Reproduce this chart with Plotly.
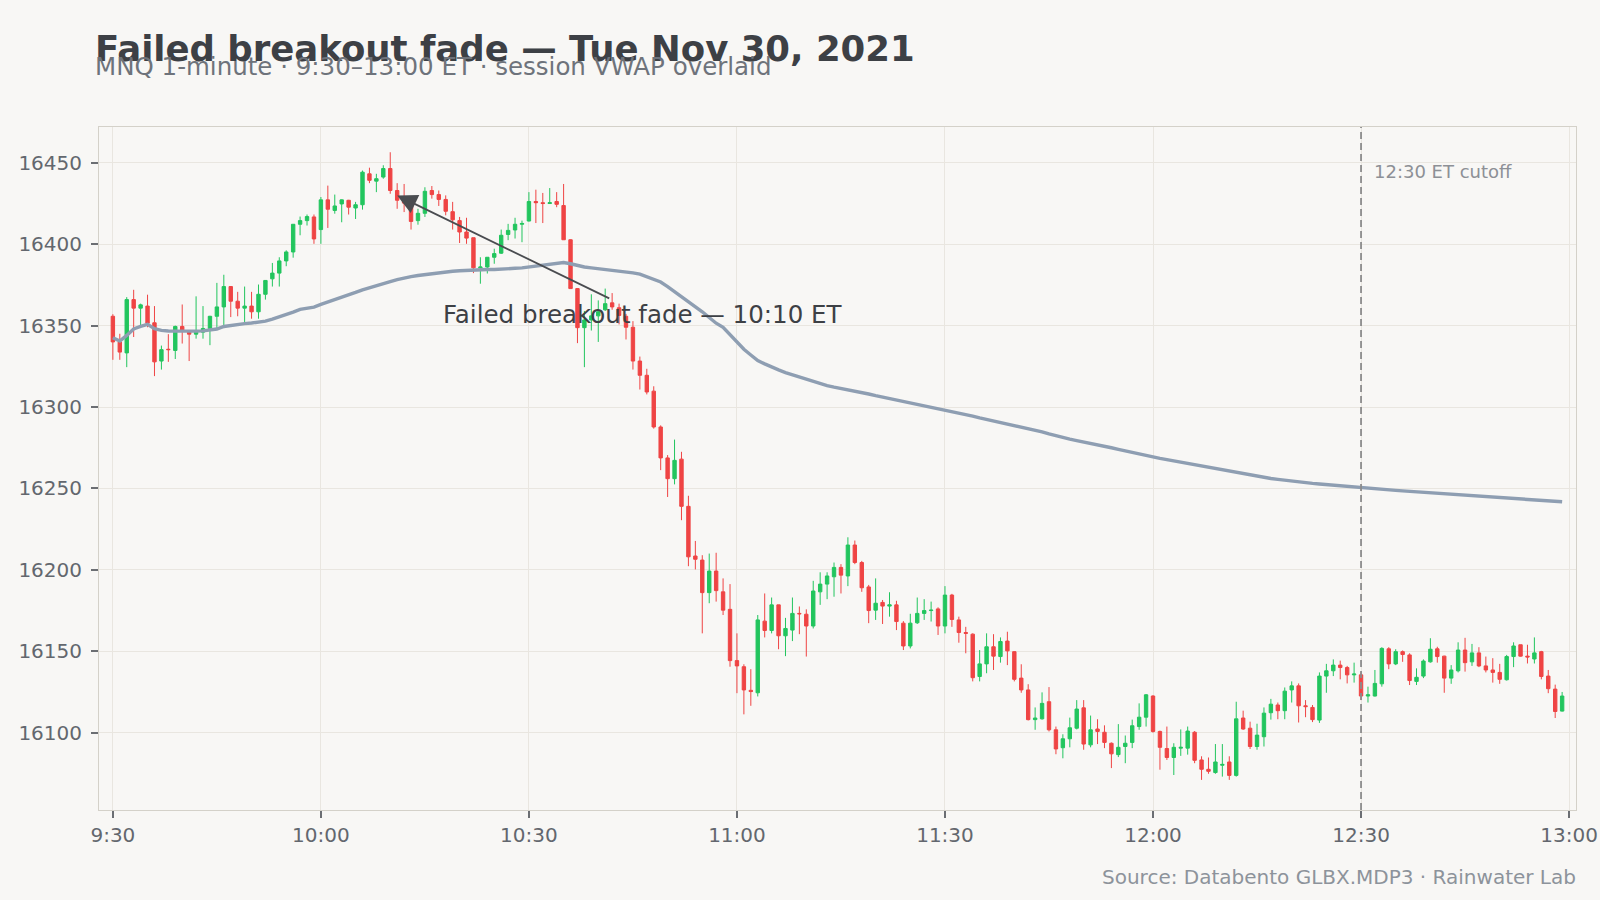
import pandas as pd
import plotly.graph_objects as go

# ---- data (MNQ 1-minute, 2021-11-30, 09:30-12:59 ET) ----
opens = [16355.75,16340,16333.25,16366,16360.75,16362,16351.75,16328.25,16335.5,16334.75,
 16349.5,16346.75,16344.75,16346,16348.25,16355.75,16361.5,16374,16365,16360.75,
 16362,16358.5,16369.25,16378.75,16382.25,16389.75,16395.25,16412.25,16414.5,16416.75,
 16409,16427.25,16420.75,16424.75,16427,16422.25,16424.25,16443.25,16438.75,16441.25,
 16446.5,16433,16427,16425.75,16414.5,16419,16433,16430.5,16427.5,16420,
 16414.5,16407.5,16404,16385.5,16386,16392,16394.5,16406,16408.75,16412.25,
 16414.25,16426.25,16425.5,16425,16426.25,16423.75,16402.75,16372.75,16348.75,16353.5,
 16356,16359.75,16364,16361,16355.75,16349,16328.25,16319.5,16309.75,16287.75,
 16268.75,16256,16268,16239,16208.5,16206,16186,16199.25,16186.5,16175.75,
 16144.25,16140.5,16126,16124.5,16168.5,16162.75,16178.5,16159.5,16163,16173.25,
 16172.75,16165.5,16186.5,16191.25,16195.75,16201.5,16196.25,16215.25,16204.5,16189.5,
 16175.25,16180,16177.75,16178.5,16167.25,16153.25,16167.5,16173.25,16175,16176,
 16165.5,16184.5,16169.25,16161.5,16160.5,16134.5,16142.25,16152.75,16146.75,16156.25,
 16149.75,16133.5,16126.25,16108,16108.5,16119,16101.75,16090.75,16096.25,16102.75,
 16115.25,16092.5,16102.25,16100.25,16093.5,16086.5,16091.5,16094,16103.75,16109.5,
 16122.5,16100.75,16090.25,16084.75,16090.5,16090.5,16100.25,16083.25,16077.5,16075.5,
 16080,16082,16073.75,16109,16102.75,16091.5,16097.5,16112.25,16117,16113.5,
 16126.25,16128.75,16116.5,16115.5,16107.75,16134.75,16138,16141.5,16140,16135.5,
 16135.5,16122.5,16122.5,16130,16151.5,16142.25,16149.75,16147.75,16131.5,16134.75,
 16143.5,16151.5,16147,16133.5,16138,16150.75,16143.5,16149,16141,16138.5,
 16137,16132.5,16146.75,16154,16147,16145.25,16149.75,16134.75,16126.75,16113.25]
highs = [16357,16345,16367.5,16372,16363.5,16369,16362,16337.75,16344.75,16350,
 16363,16346.75,16368,16362,16356,16376.25,16381.25,16374.25,16370.75,16374,
 16370.75,16375.25,16378,16388.5,16392,16396.25,16412.25,16417,16418.25,16418.25,
 16429,16436,16430.5,16427.5,16427.25,16426,16445.25,16447,16443.25,16448.5,
 16456.5,16437.5,16437,16426,16421.75,16435,16435.75,16433,16430,16426,
 16416.75,16416.25,16404,16392,16392,16397.25,16409,16412.5,16416.25,16414.5,
 16432,16433.5,16431.5,16434.5,16432,16437,16403,16373,16359,16369.25,
 16365.5,16372.75,16370,16363.5,16357.25,16352.75,16331,16323.5,16312.75,16288.75,
 16270.5,16280,16272.5,16245.5,16217.75,16209,16210,16210.5,16194.75,16191.25,
 16161,16142,16139,16172.25,16185.5,16183,16178.5,16170.5,16183,16177.5,
 16175.75,16193.25,16198.5,16198.5,16204.5,16203.5,16220,16218,16205.5,16190.75,
 16194.75,16181.5,16186.25,16181,16168.5,16173,16183,16182,16180.5,16177,
 16190,16185.25,16171.25,16165,16161,16150.75,16161,16160.5,16158.5,16162,
 16150,16142,16129.75,16115.5,16124.75,16128,16103.75,16099,16109.25,16120,
 16120,16110.5,16108.25,16104.5,16094,16105.25,16098.25,16108,16118,16123.75,
 16123,16101.25,16103.75,16093.5,16102,16103.75,16101,16085.5,16084.75,16093,
 16093,16085.5,16119,16113.5,16106.75,16105.5,16115.5,16120.75,16118.5,16127.75,
 16131.5,16130.25,16120,16117,16137,16142.25,16145,16144.25,16141,16143,
 16137,16128.25,16138.5,16152.5,16152.5,16151.25,16150.5,16148.75,16139.5,16145,
 16158,16152.75,16147.25,16141.5,16155.5,16158.25,16154.5,16152.5,16146.75,16145.75,
 16142.25,16147.75,16155.5,16154,16154,16158.5,16150.25,16138.5,16129.5,16125]
lows = [16329,16329,16324.5,16343,16349,16349,16319,16323,16327.75,16329.5,
 16339,16328.25,16342,16342,16338,16348.5,16348.5,16355.25,16355.75,16352.25,
 16354.25,16354.25,16366,16374,16374,16386.5,16391.75,16405.5,16411.5,16400.25,
 16400.25,16410,16418.75,16413.5,16418.25,16415.5,16421.25,16437.5,16432,16440.25,
 16431,16421.75,16419.75,16409,16412,16416.75,16428,16423.5,16417.75,16409,
 16400.75,16400.25,16382.25,16375.75,16382,16388,16394,16402.5,16403.5,16401.25,
 16414,16413,16413,16424.75,16422.75,16402.75,16372.75,16339.25,16324.5,16347,
 16340,16359,16359.75,16350.75,16341.5,16323,16310.75,16307.75,16286.75,16261.25,
 16244.75,16252.5,16230.5,16202.25,16200.25,16161,16179.5,16180.5,16172.25,16140.5,
 16124.25,16111.25,16116.5,16122.25,16158.5,16161,16151.25,16147,16156.25,16160.5,
 16146.75,16164,16178.5,16182,16183.5,16185.5,16190,16203.5,16186.5,16167.25,
 16169.25,16166.75,16171.25,16163,16150.75,16151.75,16166.75,16169.25,16168.25,16160,
 16161,16165,16155.25,16148.75,16131.5,16131.5,16136.5,16138.5,16143,16141.5,
 16131.5,16124.5,16107.5,16101.75,16108,16100.75,16086.75,16084.25,16091,16102,
 16089.5,16091,16093,16090.5,16078.25,16085,16081.25,16090.5,16101.75,16103.75,
 16100,16077.25,16083.25,16074,16085.75,16086.5,16081.25,16071,16074.75,16074.75,
 16073,16071,16073,16101.75,16090,16089.5,16091.5,16108,16108.25,16108.25,
 16118.5,16106.25,16109.5,16106.5,16106,16124.5,16134.75,16132.75,16130.25,16130.75,
 16120,16118.5,16122.25,16128.25,16139,16141.5,16143.5,16129.25,16129.25,16133.5,
 16143,16143,16124.5,16130,16137,16137.5,16141,16140.25,16137,16130.75,
 16130,16132,16140.25,16146.75,16142.5,16142.5,16132.75,16124.25,16109,16113]
closes = [16340,16333.75,16366,16360.75,16362.75,16351.5,16327.75,16335.25,16335.25,16349.5,
 16346.75,16344.75,16346,16348.25,16355.75,16361.5,16374,16365,16360.75,16362,
 16358.5,16369.25,16377.75,16382.25,16389.75,16395.25,16412.25,16414.5,16417,16403.25,
 16427.25,16421.5,16423.5,16427.25,16422.75,16424.25,16444.25,16439.25,16440.25,16446.5,
 16433,16427,16425.25,16414,16419,16432.5,16430.5,16427.5,16420.25,16415,
 16407.5,16403.75,16385.5,16386,16392,16394.25,16405.5,16408.5,16412.25,16412.75,
 16426.25,16425.5,16425,16425.5,16424.5,16402.75,16372.75,16348.75,16353.5,16356,
 16358.5,16363.5,16361.5,16356.25,16349,16328.25,16319.5,16309.25,16287.75,16268.75,
 16256,16267.25,16239,16208,16206.5,16186,16199.25,16187.25,16175.25,16144.25,
 16141,16126.25,16125.25,16169.25,16162.75,16178.5,16159.5,16164,16173.25,16173,
 16165.5,16187,16191.25,16196.25,16201.5,16196.75,16215.25,16204.5,16189,16175,
 16179.5,16177.75,16178.5,16168.25,16153.25,16167.25,16173.25,16175,16175.25,16165.5,
 16184.5,16169.5,16161.5,16161,16133.75,16142.25,16152.75,16147,16156,16150.25,
 16132.75,16126.25,16108,16109,16118,16101.75,16090,16096.25,16103,16114.5,
 16093,16101.75,16100.75,16094,16087,16091,16093.5,16104.25,16109.5,16123.25,
 16100.75,16091,16084.75,16091,16091,16101,16083,16077.5,16076.25,16082,
 16080.5,16073.75,16108.5,16102.25,16091.5,16098.5,16112,16117.5,16113.5,16125.5,
 16128.75,16116.5,16116,16108,16134.75,16138,16141.5,16140,16135.5,16136,
 16122.5,16123.25,16130.25,16151.75,16142.25,16149.75,16148,16132,16134,16144,
 16151.25,16146.75,16133.5,16138.5,16150.75,16143,16149,16141,16138.5,16137,
 16132.75,16146.75,16153.25,16147,16146.5,16149,16134.5,16127,16113,16122.5]
vwap = [16342.6,16340.5,16344.0,16348.0,16349.5,16350.8,16348.1,16347.1,16346.7,16346.6,
 16346.5,16346.5,16346.6,16346.8,16347.1,16347.9,16349.5,16350.2,16350.8,16351.2,
 16351.6,16352.2,16352.8,16354.0,16355.3,16356.8,16358.3,16360.0,16360.7,16361.4,
 16363.0,16364.4,16365.9,16367.2,16368.6,16370.4,16372.0,16373.4,16374.7,16375.9,
 16377.1,16378.3,16379.4,16380.1,16380.8,16381.4,16382.0,16382.5,16383.0,16383.4,
 16383.7,16384.0,16384.2,16384.4,16384.5,16384.5,16384.6,16384.9,16385.2,16385.5,
 16386.1,16386.7,16387.3,16388.0,16388.6,16388.8,16388.0,16386.8,16386.0,16385.5,
 16385.0,16384.6,16384.1,16383.7,16383.1,16382.4,16381.6,16380.0,16378.6,16376.8,
 16374.0,16371.0,16368.0,16365.0,16361.5,16358.5,16355.0,16351.5,16349.0,16344.5,
 16339.5,16335.5,16332.0,16328.5,16326.5,16324.5,16322.8,16321.2,16319.8,16318.5,
 16317.0,16315.5,16314.3,16313.2,16312.2,16311.4,16310.8,16309.9,16309.0,16308.0,
 16307.0,16306.1,16305.2,16304.4,16303.5,16302.5,16301.6,16300.8,16300.0,16299.2,
 16298.4,16297.5,16296.6,16295.6,16294.4,16293.3,16292.4,16291.4,16290.5,16289.6,
 16288.7,16287.8,16286.8,16285.9,16284.8,16283.5,16282.3,16281.3,16280.3,16279.4,
 16278.6,16277.8,16276.9,16276.0,16275.0,16274.0,16273.0,16272.1,16271.2,16270.2,
 16269.3,16268.5,16267.7,16266.9,16266.1,16265.3,16264.5,16263.7,16262.9,16262.1,
 16261.3,16260.6,16259.9,16259.1,16258.2,16257.2,16256.6,16256.1,16255.6,16255.0,
 16254.5,16254.0,16253.5,16253.1,16252.7,16252.3,16251.9,16251.6,16251.3,16251.0,
 16250.6,16250.2,16249.8,16249.4,16249.1,16248.8,16248.5,16248.2,16247.9,16247.5,
 16247.2,16246.9,16246.6,16246.3,16246.0,16245.7,16245.4,16245.2,16244.9,16244.7,
 16244.4,16244.2,16244.0,16243.7,16243.4,16243.1,16242.8,16242.5,16242.1,16241.8]

session_start = "2021-11-30 09:30"
times = pd.date_range(session_start, periods=len(closes), freq="min")
tick_times = ["2021-11-30 09:30", "2021-11-30 10:00", "2021-11-30 10:30", "2021-11-30 11:00",
              "2021-11-30 11:30", "2021-11-30 12:00", "2021-11-30 12:30", "2021-11-30 13:00"]
tick_labels = ["9:30", "10:00", "10:30", "11:00", "11:30", "12:00", "12:30", "13:00"]
y_ticks = [16100, 16150, 16200, 16250, 16300, 16350, 16400, 16450]
cutoff_time = "2021-11-30 12:30"
fade_time = "2021-11-30 10:11"
fade_price = 16430

BG = "#f8f7f5"
GREEN = "#22c55e"
RED = "#ef4444"
FONT = "DejaVu Sans"

fig = go.Figure()
fig.add_trace(go.Candlestick(
    x=times, open=opens, high=highs, low=lows, close=closes,
    increasing=dict(line=dict(color=GREEN, width=1), fillcolor=GREEN),
    decreasing=dict(line=dict(color=RED, width=1), fillcolor=RED),
    whiskerwidth=0, hoverinfo="skip", showlegend=False,
))
fig.add_trace(go.Scatter(
    x=times, y=vwap, mode="lines", line=dict(color="#8e9eb2", width=3.4),
    hoverinfo="skip", showlegend=False,
))

fig.add_shape(type="line", xref="x", yref="paper", x0=cutoff_time, x1=cutoff_time, y0=0, y1=1,
              line=dict(color="#8c8c8c", width=1.8, dash="7px,4px"))

annotations = [
    dict(text="<b>Failed breakout fade — Tue Nov 30, 2021</b>", xref="paper", yref="paper",
         x=0, y=1, xanchor="left", yanchor="middle", xshift=-6, yshift=79, showarrow=False,
         font=dict(family=FONT, size=35.5, color="#3d4045")),
    dict(text="MNQ 1-minute · 9:30–13:00 ET · session VWAP overlaid", xref="paper", yref="paper",
         x=0, y=1, xanchor="left", yanchor="middle", xshift=-6, yshift=61, showarrow=False,
         font=dict(family=FONT, size=24.5, color="#6e737b")),
    dict(text="Source: Databento GLBX.MDP3 · Rainwater Lab", xref="paper", yref="paper",
         x=1, y=0, xanchor="right", yanchor="middle", yshift=-67, xshift=2, showarrow=False,
         font=dict(family=FONT, size=20, color="#8d939b")),
    dict(text="12:30 ET cutoff", xref="x", yref="paper", x=cutoff_time, y=1,
         xanchor="left", yanchor="middle", xshift=11, yshift=-44, showarrow=False,
         font=dict(family=FONT, size=18, color="#8d9096")),
    dict(text="Failed breakout fade — 10:10 ET", xref="x", yref="y", x=fade_time, y=fade_price,
         ax=245, ay=119, showarrow=True, arrowhead=2, arrowsize=2.2, arrowwidth=1.8,
         arrowcolor="#4a4c50", font=dict(family=FONT, size=24.5, color="#3d4045")),
]

fig.update_layout(
    width=1600, height=900,
    paper_bgcolor=BG, plot_bgcolor=BG,
    margin=dict(l=99, r=24, t=127, b=90),
    font=dict(family=FONT, size=20, color="#63676e"),
    showlegend=False,
    annotations=annotations,
    hovermode=False,
)
fig.update_xaxes(
    type="date", range=["2021-11-30 09:28", "2021-11-30 13:01"],
    rangeslider=dict(visible=False), automargin=False,
    tickvals=tick_times, ticktext=tick_labels,
    showgrid=True, gridcolor="#e9e6e0", gridwidth=1,
    showline=True, mirror=True, linecolor="#d4d1c9", linewidth=1,
    ticks="outside", ticklen=7, tickcolor="#6b6e73", tickwidth=1.5,
    tickfont=dict(size=20, color="#63676e"), zeroline=False,
)
fig.update_yaxes(
    range=[16052.5, 16472], tickvals=y_ticks, tickformat="d", automargin=False,
    showgrid=True, gridcolor="#e9e6e0", gridwidth=1,
    showline=True, mirror=True, linecolor="#d4d1c9", linewidth=1,
    ticks="outside", ticklen=7, tickcolor="#6b6e73", tickwidth=1.5,
    ticklabelstandoff=5,
    tickfont=dict(size=20, color="#63676e"), zeroline=False,
)

fig.write_html(
    "out.html",
    config={"displayModeBar": False},
    post_script="document.body.style.margin='0';document.body.style.overflow='hidden';",
)
